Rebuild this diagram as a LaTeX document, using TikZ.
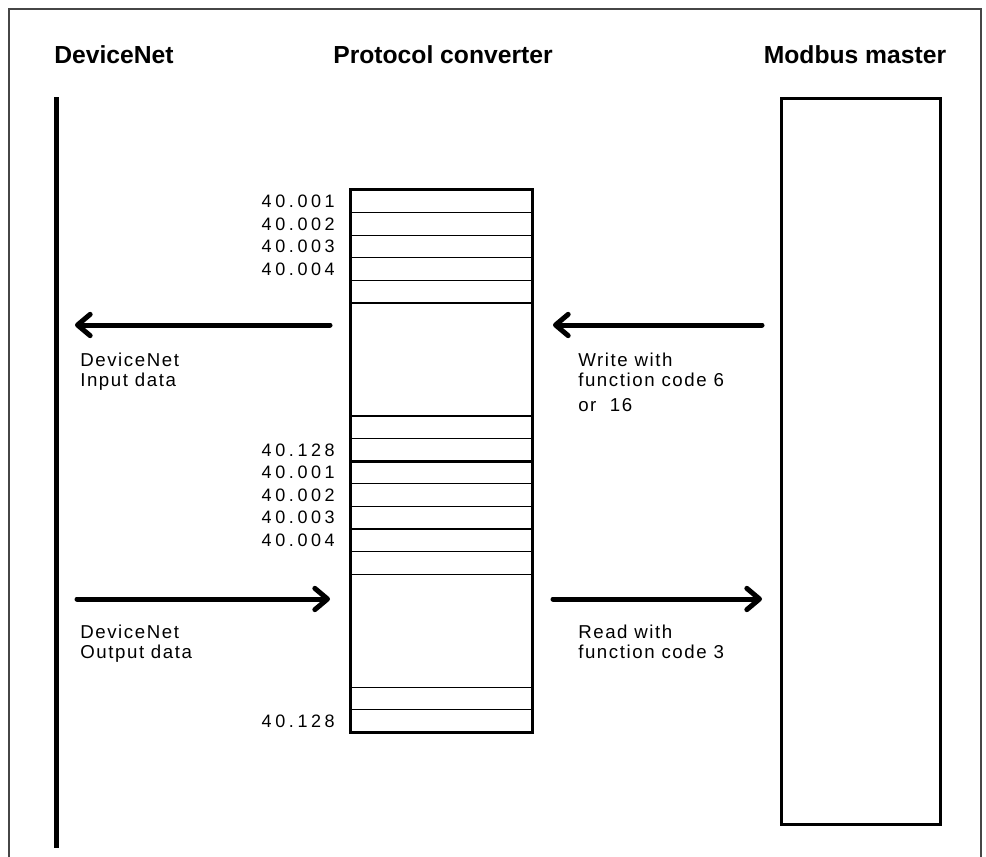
\documentclass[tikz,border=0pt]{standalone}
\usepackage{fontspec}
\setmainfont{Liberation Sans}
\usetikzlibrary{arrows.meta}
\definecolor{framegray}{RGB}{70,70,70}
\definecolor{inkblack}{RGB}{0,0,0}

\tikzset{
  heading/.style={inkblack, inner sep=0pt, font=\fontsize{18.5}{21}\selectfont\bfseries},
  regnum/.style={inkblack, inner sep=0pt, anchor=east, font=\fontsize{13.5}{16}\selectfont\addfontfeature{LetterSpace=20}},
  flowtext/.style={inkblack, inner sep=0pt, anchor=north west, align=left, font=\fontsize{14}{15}\selectfont\addfontfeature{LetterSpace=8.5}},
  flowarrow/.style={inkblack, line width=3.75pt, line cap=round, -{Straight Barb[length=9.5pt, width=16pt, line cap=round, line join=round]}},
}

\begin{document}
\begin{tikzpicture}[x=0.75pt, y=-0.75pt]
    \useasboundingbox (0,0) rectangle (986,857);
    % outer frame, open at the bottom
    \draw[framegray, line width=1.1pt] (9,857) -- (9,9) -- (981,9) -- (981,857);

    % column headings
    \node[heading] (hnet) at (114,55) {DeviceNet};
    \node[heading] (hconv) at (443,55) {Protocol converter};
    \node[heading] (hmaster) at (855,55) {Modbus master};

    % DeviceNet bus and Modbus master
    \coordinate (bustop) at (56,97);
    \coordinate (busbot) at (56,848);
    \draw[inkblack, line width=3.75pt] (bustop) -- (busbot);
    \node[draw=inkblack, line width=2.25pt, minimum width=119.25pt, minimum height=544.5pt, inner sep=0pt] (master) at (860.5,461) {};

    % register table of the converter
    \node[draw=inkblack, line width=2.25pt, minimum width=136.5pt, minimum height=407.25pt, inner sep=0pt] (conv) at (441,461.2) {};
    \foreach \k in {1,...,5,10,11,13,14,15,16,17,22,23}
        \draw[inkblack, line width=0.9pt] (350,190+\k*22.6) -- (532,190+\k*22.6);
    \draw[inkblack, line width=2.25pt] (350,461.2) -- (532,461.2);

    % register numbers
    \foreach \k/\reg in {0/40.001, 1/40.002, 2/40.003, 3/40.004, 11/40.128,
                         12/40.001, 13/40.002, 14/40.003, 15/40.004, 23/40.128}
        \node[regnum] (reg\k) at (335,201.3+\k*22.6) {\reg};

    % data flow arrows
    \coordinate (inA) at (330,325);  \coordinate (inB) at (75,325);
    \coordinate (wrA) at (762,325);  \coordinate (wrB) at (553,325);
    \coordinate (outA) at (77,599);  \coordinate (outB) at (330,599);
    \coordinate (rdA) at (553,599);  \coordinate (rdB) at (762,599);
    \draw[flowarrow] (inA) -- (inB);
    \draw[flowarrow] (wrA) -- (wrB);
    \draw[flowarrow] (outA) -- (outB);
    \draw[flowarrow] (rdA) -- (rdB);

    % arrow captions
    \node[flowtext] (intext) at (80,353) {DeviceNet\\Input data};
    \node[flowtext] (wrtext) at (578,353) {Write with\\function code 6\\[3.75pt]or~~16};
    \node[flowtext] (outtext) at (80,625) {DeviceNet\\Output data};
    \node[flowtext] (rdtext) at (578,625) {Read with\\function code 3};
\end{tikzpicture}
\end{document}
